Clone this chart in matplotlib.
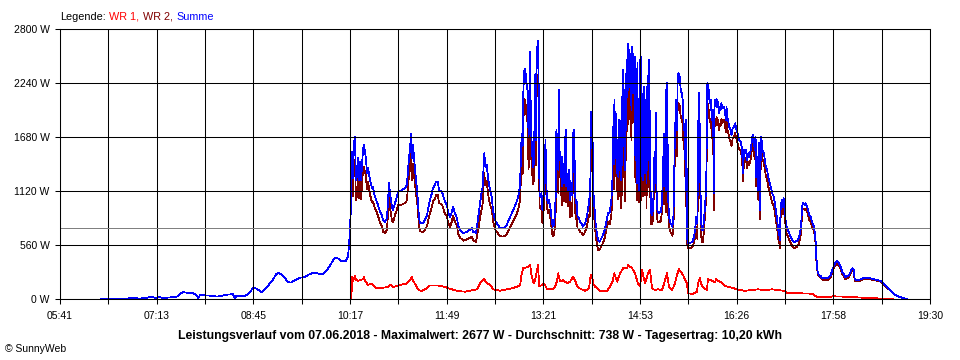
import numpy as np
import matplotlib
matplotlib.use("Agg")
import matplotlib.pyplot as plt

# Zeit in Minuten seit Mitternacht, Leistung in W
zeit_morgen = [380.1, 402.9, 407.7, 417.2, 424.9, 428.7, 431.5, 436.3, 439.1, 443.9,
               450.6, 452.5, 455.3, 458.2, 463.0, 467.7, 471.5, 472.5, 474.4, 483.9,
               490.6, 495.4, 500.1, 505.8, 507.8, 508.7, 515.4, 519.2, 522.0, 524.9,
               527.8, 530.6, 533.5, 537.3, 541.1, 544.0, 546.8, 548.7, 551.6, 555.4,
               558.3, 561.1, 564.9, 569.7, 574.5, 579.2, 582.1, 586.8, 591.6, 595.4,
               598.3, 601.1, 603.0, 605.9, 608.8, 613.5, 615.4, 616.4, 617.3]
summe_morgen = [0, 0, 10, 5, 15, 25, 10, 20, 5, 15,
                20, 25, 55, 70, 65, 60, 35, 5, 40, 35,
                25, 35, 45, 50, 5, 30, 30, 40, 70, 115,
                110, 90, 70, 110, 165, 200, 255, 270, 260, 215,
                175, 170, 195, 220, 230, 260, 270, 265, 255, 300,
                345, 400, 430, 420, 395, 395, 440, 560, 720]

zeit_tag = [618.3, 619.2, 620.2, 621.1, 622.1, 623.0, 624.0, 624.9, 625.9, 626.8,
            627.8, 628.7, 629.7, 630.6, 632.5, 633.5, 634.5, 636.4, 638.3, 639.2,
            641.1, 643.0, 644.0, 645.9, 647.8, 648.7, 650.7, 652.6, 653.5, 654.5,
            655.4, 657.3, 658.3, 660.2, 662.1, 663.0, 666.9, 669.7, 671.6, 672.6,
            673.5, 674.5, 675.4, 676.4, 677.3, 678.3, 679.2, 680.2, 681.1, 682.1,
            683.0, 684.0, 686.9, 688.8, 690.7, 691.6, 693.5, 695.4, 696.4, 698.3,
            699.2, 701.2, 702.1, 705.0, 705.9, 707.8, 709.7, 710.7, 712.6, 714.5,
            715.4, 717.4, 719.3, 720.2, 722.1, 724.0, 725.0, 728.8, 733.6, 734.5,
            737.4, 738.3, 740.2, 742.1, 743.7, 744.3, 745.3, 746.2, 747.6, 749.1,
            750.7, 752.3, 753.8, 755.4, 757.0, 760.2, 763.3, 766.6, 769.7, 772.9,
            776.1, 777.6, 779.3, 780.2, 780.9, 781.8, 782.4, 783.0, 783.7, 784.3,
            784.9, 785.6, 786.2, 786.8, 787.5, 788.0, 788.7, 789.4, 789.9, 790.9,
            791.8, 792.8, 793.4, 794.1, 794.7, 795.3, 796.0, 796.6, 797.2, 797.9,
            798.8, 799.8, 800.7, 801.7, 802.6, 803.6, 804.1, 804.8, 805.7, 806.7,
            807.6, 808.6, 809.5, 810.5, 811.4, 812.4, 813.3, 814.0, 814.5, 815.2,
            815.9, 816.4, 817.1, 817.8, 818.3, 819.0, 819.7, 820.2, 820.9, 821.8,
            822.8, 823.4, 824.4, 825.3, 826.3, 827.2, 828.2, 829.1, 830.1, 830.6,
            831.3, 832.2, 833.2, 834.1, 835.4, 836.7, 838.0, 839.2, 840.6, 841.8,
            843.0, 844.0, 845.0, 845.6, 846.3, 846.9, 847.8, 848.8, 849.5, 850.4,
            851.4, 852.6, 853.6, 855.2, 856.8, 858.4, 860.0, 861.6, 863.2, 864.8,
            866.4, 867.4, 867.9, 868.6, 869.3, 869.8, 870.5, 871.1, 871.7, 872.4,
            873.0, 873.6, 874.2, 874.9, 875.5, 876.1, 876.8, 877.4, 878.0, 878.7,
            879.3, 879.9, 880.5, 881.1, 881.8, 882.4, 883.0, 883.7, 884.3, 884.9,
            885.5, 886.2, 886.8, 887.4, 888.1, 888.6, 889.3, 889.9, 890.5, 891.2,
            891.8, 892.4, 893.0, 893.7, 894.3, 894.9, 895.6, 896.2, 896.8, 897.4,
            898.0, 898.6, 899.3, 899.9, 900.5, 901.2, 901.7, 902.4, 903.0, 903.6,
            904.3, 905.5, 906.5, 907.4, 908.1, 908.8, 909.3, 910.3, 911.9, 913.5,
            914.5, 915.0, 915.7, 916.4, 916.9, 917.6, 918.2, 918.8, 919.4, 920.1,
            920.7, 921.3, 922.9, 924.5, 925.4, 926.1, 927.0, 927.7, 928.3, 928.9,
            929.6, 930.2, 931.5, 932.5, 933.4, 934.4, 934.9, 935.6, 936.6, 937.2,
            937.8, 938.5, 939.4, 940.4, 943.5, 945.2, 946.1, 946.8, 947.3, 948.3,
            949.3, 949.9, 950.6, 951.1, 951.8, 952.4, 953.4, 954.3, 954.9, 955.6,
            956.2, 956.8, 957.8, 958.8, 959.4, 960.3, 961.0, 961.5, 962.2, 962.9,
            963.4, 964.1, 964.8, 965.3, 966.0, 966.6, 967.2, 968.1, 968.8, 969.7,
            970.4, 971.3, 972.3, 973.5, 974.5, 975.4, 976.1, 976.7, 977.6, 978.6,
            979.9, 980.9, 981.9, 983.1, 984.3, 985.3, 986.3, 987.2, 988.2, 989.5,
            990.5, 991.4, 992.0, 992.7, 993.6, 994.6, 995.8, 996.8, 997.7, 999.1,
            1000.0, 1001.0, 1001.9, 1002.9, 1003.8, 1004.4, 1005.1, 1005.7, 1006.3, 1007.0,
            1007.6, 1008.2, 1008.8, 1009.5, 1010.4, 1011.7, 1012.6, 1013.6, 1014.8, 1015.8,
            1016.7, 1018.1, 1019.6, 1021.2, 1022.2, 1023.1, 1024.4, 1025.3, 1026.3, 1026.9,
            1027.6, 1028.2, 1029.1, 1030.1, 1030.7, 1031.4, 1032.4, 1033.3, 1034.5, 1035.8,
            1037.1, 1038.7, 1040.3, 1041.9, 1043.4, 1045.0, 1046.0, 1047.2, 1047.9, 1048.6,
            1049.8, 1050.8, 1051.7, 1053.0, 1053.9, 1054.9, 1056.2, 1057.2, 1058.1, 1059.4,
            1060.3, 1061.0, 1061.6, 1062.2, 1062.9, 1064.1, 1065.7, 1067.3, 1072.1, 1075.3,
            1077.5, 1079.4, 1081.6, 1083.9, 1086.4, 1089.6, 1092.8, 1095.9, 1097.5, 1098.2,
            1100.7, 1103.9, 1107.1, 1111.8, 1116.6, 1119.7, 1123.0, 1126.1, 1129.3, 1132.5,
            1135.6, 1140.4, 1145.2, 1148.3]

summe_tag = [975, 1524, 1255, 1618, 1680, 1234, 1276, 1462, 1234, 1420,
             1234, 1369, 1545, 1597, 1462, 1307, 1358, 1234, 1151, 1161,
             1061, 1006, 975, 905, 871, 819, 802, 840, 1009, 1200,
             1099, 957, 923, 996, 1061, 1113, 1130, 1151, 1182, 1338,
             1459, 1545, 1718, 1459, 1597, 1470, 1365, 1234, 1151, 1009,
             853, 785, 785, 819, 871, 923, 1027, 1099, 1151, 1182,
             1216, 1216, 1130, 1110, 1078, 1009, 975, 905, 853, 905,
             957, 888, 840, 767, 716, 698, 681, 698, 733, 698,
             688, 750, 905, 1061, 1165, 1303, 1511, 1372, 1390, 1234,
             1130, 1061, 905, 819, 791, 739, 733, 767, 847, 923,
             1009, 1061, 1165, 1476, 1718, 1580, 2098, 2305, 2392, 2237,
             2340, 2202, 2220, 2046, 1683, 1926, 2565, 2098, 1753, 1511,
             1372, 1410, 2271, 2340, 1649, 2616, 2582, 2677, 2098, 1096,
             1061, 1096, 923, 1044, 1200, 1649, 1303, 1096, 992, 1027,
             992, 923, 819, 750, 767, 853, 1061, 1753, 1476, 1718,
             1338, 2167, 1511, 1441, 1268, 1476, 1165, 1372, 1200, 1476,
             1753, 1165, 1303, 1130, 1338, 1027, 1200, 1078, 1718, 1753,
             1476, 992, 1027, 853, 836, 802, 785, 750, 767, 802,
             853, 923, 992, 1061, 1130, 1942, 1942, 1493, 1061, 923,
             785, 681, 612, 594, 630, 664, 716, 802, 889, 900,
             1027, 1234, 1787, 1400, 2064, 1753, 1926, 1476, 1303, 1649,
             1268, 1856, 1337, 1545, 1234, 2098, 1390, 2375, 1580, 2167,
             1337, 2340, 1753, 2478, 2098, 2651, 2200, 2582, 2270, 2547,
             1960, 2616, 2130, 2547, 2340, 2513, 1442, 1787, 1200, 2444,
             1337, 2064, 1130, 2478, 1270, 2513, 1650, 2098, 1234, 2200,
             1753, 1303, 2064, 1200, 2200, 1440, 2400, 2478, 1753, 1200,
             889, 871, 1060, 1476, 1338, 1926, 1165, 905, 889, 905,
             992, 1130, 1476, 1165, 1718, 1303, 2167, 1130, 2237, 1476,
             1000, 853, 785, 750, 819, 1130, 1822, 1753, 2064, 1753,
             2305, 2340, 2305, 2167, 2133, 2064, 1890, 1753, 1787, 1130,
             1856, 646, 578, 578, 590, 646, 716, 785, 853, 785,
             1856, 2133, 1753, 1268, 853, 716, 716, 785, 853, 957,
             1061, 1200, 2237, 2220, 2098, 2029, 2064, 1994, 1856, 1960,
             1890, 1096, 2029, 2064, 2029, 2080, 1994, 2046, 1926, 1994,
             1960, 2029, 1977, 1994, 1960, 1856, 1994, 1890, 1856, 1787,
             1753, 1701, 1770, 1787, 1822, 1770, 1735, 1683, 1649, 1632,
             1580, 1441, 1303, 1545, 1511, 1545, 1441, 1511, 1476, 1545,
             1615, 1701, 1683, 1545, 1683, 1268, 1476, 1338, 1130, 1615,
             1027, 923, 1683, 1649, 1545, 1511, 1441, 1372, 1338, 1268,
             1234, 1165, 1096, 1061, 992, 923, 819, 716, 681, 612,
             923, 992, 1027, 957, 1044, 992, 819, 750, 716, 681,
             646, 612, 594, 594, 605, 630, 681, 750, 923, 992,
             992, 975, 992, 957, 923, 871, 853, 819, 785, 750,
             681, 594, 440, 370, 283, 249, 240, 215, 215, 249,
             318, 370, 394, 360, 283, 225, 249, 318, 300, 204,
             197, 204, 218, 218, 204, 197, 187, 156, 121, 86,
             52, 24, 7, 0]

wr2_tag = [975, 1293, 1065, 1408, 1445, 1024, 1076, 1275, 1044, 1225,
           1039, 1169, 1340, 1367, 1272, 1137, 1213, 1084, 1001, 1011,
           941, 895, 864, 790, 756, 699, 682, 715, 884, 1060,
           949, 817, 793, 871, 926, 973, 980, 996, 1022, 1168,
           1274, 1348, 1503, 1228, 1397, 1290, 1205, 1094, 1031, 909,
           763, 702, 695, 719, 756, 803, 887, 959, 1011, 1042,
           1076, 1076, 995, 980, 948, 884, 860, 794, 748, 805,
           862, 798, 755, 684, 636, 620, 605, 618, 647, 610,
           593, 650, 765, 898, 985, 1113, 1307, 1182, 1220, 1074,
           980, 931, 805, 724, 701, 653, 647, 667, 742, 808,
           881, 926, 1025, 1245, 1458, 1290, 1780, 1985, 2072, 1917,
           2015, 1873, 1891, 1711, 1343, 1581, 2212, 1798, 1493, 1311,
           1192, 1247, 2071, 2110, 1389, 2315, 2252, 2324, 1898, 968,
           933, 968, 783, 894, 1040, 1499, 1183, 996, 892, 922,
           885, 818, 719, 650, 657, 723, 901, 1556, 1256, 1452,
           1098, 1947, 1331, 1256, 1078, 1281, 968, 1175, 1010, 1296,
           1583, 1002, 1138, 960, 1160, 847, 1000, 863, 1487, 1533,
           1286, 832, 899, 733, 726, 695, 685, 660, 681, 712,
           753, 813, 872, 846, 900, 1693, 1702, 1333, 921, 795,
           665, 570, 512, 511, 547, 581, 631, 716, 799, 772,
           877, 1054, 1590, 1134, 1814, 1523, 1726, 1286, 1123, 1449,
           1038, 1606, 1071, 1265, 944, 1798, 1080, 2057, 1262, 1849,
           1019, 2022, 1435, 2160, 1745, 2298, 1860, 2252, 1945, 2227,
           1642, 2306, 1830, 2257, 2060, 2247, 1212, 1587, 1020, 2284,
           1187, 1924, 1002, 2278, 1020, 2213, 1400, 1898, 1064, 2040,
           1553, 1073, 1814, 940, 1934, 1160, 2110, 2177, 1503, 1020,
           779, 771, 965, 1383, 1243, 1831, 1067, 805, 794, 812,
           899, 1030, 1316, 985, 1518, 1073, 1901, 900, 2057, 1348,
           872, 743, 690, 657, 709, 970, 1622, 1523, 1815, 1483,
           2015, 2032, 2005, 1887, 1873, 1815, 1660, 1553, 1607, 960,
           1696, 587, 523, 523, 538, 586, 646, 709, 753, 625,
           1656, 1917, 1553, 1098, 703, 586, 591, 675, 758, 864,
           968, 1107, 2033, 2016, 1898, 1832, 1869, 1804, 1671, 1780,
           1715, 926, 1825, 1860, 1834, 1890, 1804, 1861, 1746, 1819,
           1790, 1864, 1827, 1859, 1830, 1728, 1869, 1765, 1736, 1667,
           1635, 1586, 1660, 1682, 1722, 1670, 1637, 1588, 1559, 1542,
           1492, 1355, 1218, 1460, 1426, 1459, 1353, 1421, 1386, 1453,
           1522, 1606, 1588, 1448, 1585, 1168, 1376, 1238, 1030, 1517,
           932, 828, 1590, 1556, 1452, 1418, 1346, 1275, 1240, 1168,
           1134, 1065, 998, 964, 897, 830, 726, 624, 591, 524,
           835, 906, 942, 877, 969, 922, 753, 684, 650, 616,
           582, 549, 532, 533, 545, 570, 621, 690, 865, 934,
           934, 917, 935, 900, 867, 815, 798, 764, 735, 705,
           646, 569, 420, 353, 266, 234, 225, 200, 195, 225,
           294, 346, 370, 336, 261, 203, 227, 298, 280, 184,
           182, 192, 206, 208, 194, 189, 182, 151, 116, 83,
           52, 24, 7, 0]

zeit_wr1 = [618.7, 619.2, 620.2, 622.1, 623.0, 624.9, 626.8, 629.7, 630.6, 631.6,
            634.5, 637.3, 639.2, 642.1, 645.9, 650.7, 653.5, 655.4, 658.3, 662.1,
            666.9, 671.6, 674.5, 676.4, 677.3, 679.2, 682.1, 685.0, 688.8, 693.5,
            701.2, 707.8, 710.7, 714.5, 720.2, 726.9, 731.7, 738.4, 741.3, 745.1,
            748.0, 750.8, 753.7, 760.4, 767.0, 772.8, 776.6, 779.5, 780.4, 782.3,
            786.1, 789.0, 790.0, 791.9, 792.8, 794.7, 795.7, 796.6, 797.6, 802.4,
            805.2, 808.1, 811.0, 812.9, 814.8, 815.7, 817.6, 820.3, 824.3, 827.1,
            830.0, 831.9, 833.8, 836.7, 841.4, 845.2, 846.1, 847.1, 848.0, 849.0,
            850.9, 852.8, 855.6, 862.3, 865.2, 868.0, 869.0, 871.8, 874.7, 877.5,
            881.3, 882.3, 886.1, 888.9, 891.8, 893.7, 895.6, 898.5, 901.3, 903.2,
            905.1, 908.0, 910.8, 914.6, 916.6, 919.4, 921.3, 924.2, 927.0, 928.9,
            930.8, 934.6, 938.4, 939.4, 944.1, 947.9, 948.9, 950.8, 951.7, 953.6,
            957.5, 958.4, 961.3, 965.1, 966.0, 968.0, 971.8, 974.6, 981.3, 986.0,
            993.7, 1000.3, 1006.1, 1012.7, 1019.4, 1025.1, 1030.8, 1033.7, 1044.2, 1057.5,
            1061.3, 1063.2, 1074.7, 1077.5, 1093.7, 1103.2, 1122.3, 1134.7]
wr1 = [0, 231, 190, 235, 200, 187, 195, 205, 230, 190,
       145, 160, 150, 111, 115, 120, 125, 150, 125, 135,
       150, 160, 197, 231, 190, 160, 100, 83, 100, 140,
       140, 125, 111, 100, 83, 76, 86, 100, 163, 204,
       163, 150, 100, 86, 100, 115, 128, 140, 231, 318,
       329, 353, 260, 180, 163, 250, 301, 353, 128, 160,
       100, 107, 100, 130, 197, 266, 180, 197, 163, 180,
       231, 190, 128, 107, 86, 110, 215, 249, 240, 160,
       128, 111, 83, 86, 128, 197, 266, 180, 266, 318,
       318, 353, 318, 266, 160, 128, 300, 160, 266, 301,
       110, 93, 100, 93, 160, 266, 128, 93, 160, 249,
       308, 249, 160, 59, 52, 76, 160, 216, 160, 125,
       93, 204, 197, 170, 204, 190, 170, 135, 118, 100,
       85, 93, 100, 93, 100, 93, 85, 66, 60, 55,
       30, 17, 20, 28, 22, 15, 5, 0]

durchschnitt = 738
x_ticks_labels = ["05:41", "07:13", "08:45", "10:17", "11:49", "13:21",
                  "14:53", "16:26", "17:58", "19:30"]
y_ticks = [0, 560, 1120, 1680, 2240, 2800]
y_ticks_labels = ["0 W", "560 W", "1120 W", "1680 W", "2240 W", "2800 W"]
titel = ("Leistungsverlauf vom 07.06.2018 - Maximalwert: 2677 W - "
         "Durchschnitt: 738 W - Tagesertrag: 10,20 kWh")

plt.rcParams['font.family'] = ['Liberation Sans', 'DejaVu Sans']
plt.rcParams['font.size'] = 7.5

fig = plt.figure(figsize=(9.6, 3.6), dpi=100)
ax = fig.add_axes([60 / 960, 61 / 360, 870 / 960, 270 / 360])

zeit = zeit_morgen + zeit_tag
summe = summe_morgen + summe_tag

ax.plot(zeit_wr1, wr1, color='#ff0000', lw=0.55, antialiased=False, zorder=1.1)
ax.plot(zeit_tag, wr2_tag, color='#800000', lw=0.55, antialiased=False, zorder=1.2)
ax.plot(zeit, summe, color='#0000ff', lw=0.55, antialiased=False, zorder=1.3)
ax.axhline(durchschnitt, color='#808080', lw=0.55, antialiased=False, zorder=3)

# 19 Gitterlinien zwischen 05:41 und 19:30, jede zweite beschriftet
x_ticks = np.linspace(341, 1170, 19)
labels = []
for i in range(19):
    labels.append(x_ticks_labels[i // 2] if i % 2 == 0 else "")
ax.set_xticks(x_ticks)
ax.set_xticklabels(labels)
ax.set_yticks(y_ticks)
ax.set_yticklabels(y_ticks_labels)
ax.set_xlim(341, 1170)
ax.set_ylim(0, 2800)

ax.set_axisbelow(False)
ax.grid(True, color='black', lw=0.75)
for s in ax.spines.values():
    s.set_linewidth(0.75)
    s.set_zorder(4)
ax.tick_params(direction='out', length=3.6, width=0.75, color='black', pad=4)
ax.tick_params(axis='x', pad=5)

# Legende oben links
renderer = fig.canvas.get_renderer()
x = 60
for s, c in [("Legende:", "black"), ("WR 1,", "#ff0000"), ("WR 2,", "#800000"), ("Summe", "#0000ff")]:
    t = fig.text(x / 960, 1 - 16.5 / 360, s, color=c, va='center', ha='left', fontsize=7.8)
    bb = t.get_window_extent(renderer)
    x += bb.width + 3.5

fig.text(479.5 / 960, 1 - 336.5 / 360, titel, ha='center', va='center',
         fontweight='bold', fontsize=8.8)
fig.text(5 / 960, 1 - 349.5 / 360, "© SunnyWeb", ha='left', va='center')

plt.savefig('out.png', dpi=100)
